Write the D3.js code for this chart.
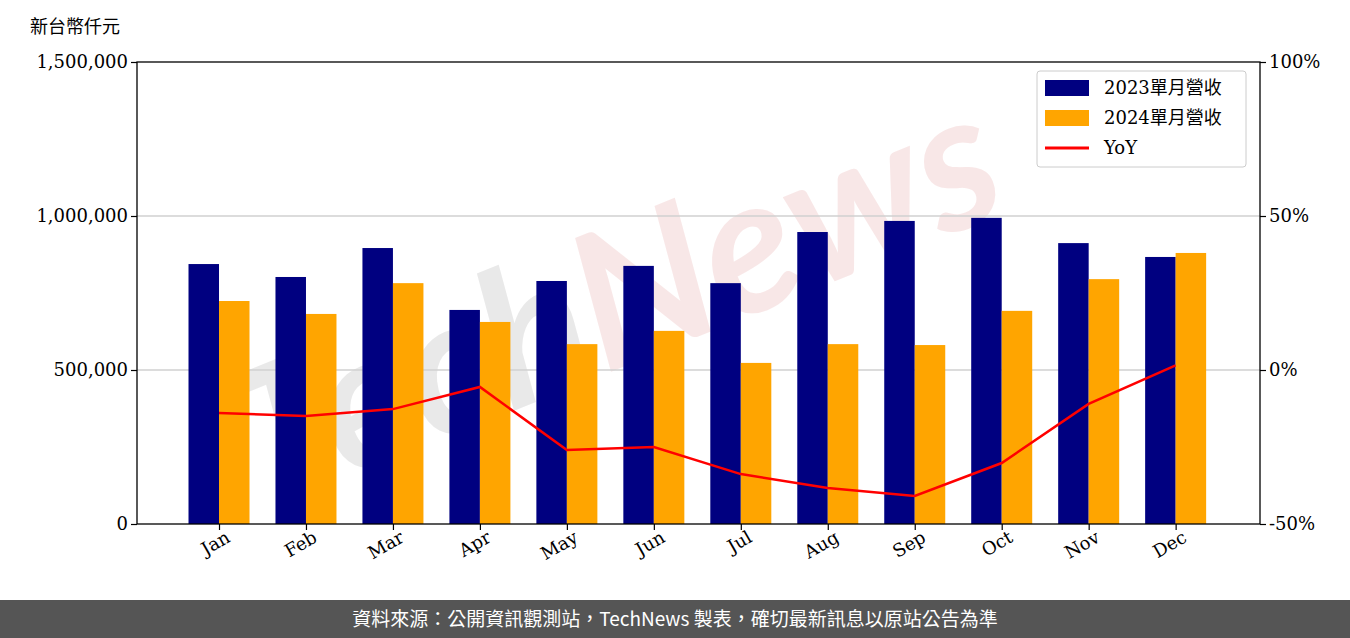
<!DOCTYPE html>
<html><head><meta charset="utf-8">
<script src="https://cdn.jsdelivr.net/npm/d3@7"></script>
<style>body{margin:0;background:#fff}svg{display:block}</style>
</head><body>
<svg id="c" width="1350" height="638"></svg>
<script>
const months=["Jan","Feb","Mar","Apr","May","Jun","Jul","Aug","Sep","Oct","Nov","Dec"];
const rev2023=[844000,802000,896000,695000,789000,838000,782000,948000,984000,994000,912000,867000];
const rev2024=[724000,682000,782000,656000,584000,627000,523000,584000,581000,692000,795000,880000];
const yoy=[-14.0,-14.9,-12.7,-5.5,-26.0,-25.0,-33.8,-38.3,-40.9,-30.2,-11.0,1.5];
const leftTicks=[0,500000,1000000,1500000];
const rightTicks=[-50,0,50,100];
const seriesNames=["2023單月營收","2024單月營收","YoY"];

const svg=d3.select("#c");
const L=137,R=1260,T=62,B=524;
const x=d3.scaleLinear().domain([-0.943,11.97]).range([L,R]);
const y=d3.scaleLinear().domain([0,1500000]).range([B,T]);
const y2=d3.scaleLinear().domain([-50,100]).range([B,T]);
const bw=30.5;
const serif="'DejaVu Serif',serif";

// watermark
const wm=svg.append("text").attr("x",640).attr("y",360).attr("text-anchor","middle")
 .attr("transform","rotate(-22,640,360)").attr("font-family","Lato,sans-serif").attr("font-style","italic")
 .attr("font-weight","bold").attr("font-size",190).attr("opacity",0.55);
wm.append("tspan").attr("fill","#d8d8d8").text("Tech");
wm.append("tspan").attr("fill","#f4d4d4").text("News");

// grid
svg.append("g").selectAll("line").data([500000,1000000]).join("line")
 .attr("x1",L).attr("x2",R).attr("y1",d=>y(d)).attr("y2",d=>y(d)).attr("stroke","#d0d0d0").attr("stroke-width",1.3);

svg.append("g").selectAll("rect").data(rev2023).join("rect")
 .attr("x",(d,i)=>x(i)-bw).attr("width",bw).attr("y",d=>y(d)).attr("height",d=>B-y(d)).attr("fill","#000080");
svg.append("g").selectAll("rect").data(rev2024).join("rect")
 .attr("x",(d,i)=>x(i)).attr("width",bw).attr("y",d=>y(d)).attr("height",d=>B-y(d)).attr("fill","#FFA500");

svg.append("path").datum(yoy).attr("fill","none").attr("stroke","#ff0000").attr("stroke-width",2.5)
 .attr("d",d3.line().x((d,i)=>x(i)).y(d=>y2(d)));

// frame
svg.append("rect").attr("x",L).attr("y",T).attr("width",R-L).attr("height",B-T).attr("fill","none").attr("stroke","#000").attr("stroke-width",1.3);

const ax=svg.append("g").attr("transform",`translate(${L},0)`).call(d3.axisLeft(y).tickValues(leftTicks).tickFormat(d3.format(",")).tickSizeOuter(0));
const ax2=svg.append("g").attr("transform",`translate(${R},0)`).call(d3.axisRight(y2).tickValues(rightTicks).tickFormat(d=>d+"%").tickSizeOuter(0));
const axb=svg.append("g").attr("transform",`translate(0,${B})`).call(d3.axisBottom(x).tickValues(d3.range(12)).tickFormat(i=>months[i]).tickSizeOuter(0));
[ax,ax2,axb].forEach(g=>{g.select(".domain").remove();g.selectAll("text").attr("font-family",serif).attr("font-size",18).attr("fill","#000");g.selectAll("line").attr("stroke","#000").attr("stroke-width",1.2);});
ax.selectAll("line").attr("x2",-6);ax.selectAll("text").attr("x",-9);
axb.selectAll("text").attr("text-anchor","end").attr("transform","rotate(-30)").attr("dy","0.7em").attr("dx","0.1em").attr("y",8);

svg.append("text").attr("x",30).attr("y",33).attr("font-family","'Noto Sans CJK TC',sans-serif").attr("font-size",18).text("新台幣仟元");

// legend
const lg=svg.append("g");
lg.append("rect").attr("x",1037).attr("y",71).attr("width",209).attr("height",96).attr("rx",3).attr("fill","#fff").attr("fill-opacity",0.85).attr("stroke","#ccc");
const cols=["#000080","#FFA500","#ff0000"];
seriesNames.forEach((n,i)=>{
 const yy=88+i*30;
 if(i<2) lg.append("rect").attr("x",1045).attr("y",yy-8).attr("width",44).attr("height",16).attr("fill",cols[i]);
 else lg.append("line").attr("x1",1045).attr("x2",1089).attr("y1",yy).attr("y2",yy).attr("stroke",cols[i]).attr("stroke-width",3);
 lg.append("text").attr("x",1104).attr("y",yy+6).attr("font-family","'DejaVu Serif','Noto Sans CJK TC',serif").attr("font-size",18).text(n);
});

// footer
svg.append("rect").attr("x",0).attr("y",600).attr("width",1350).attr("height",38).attr("fill","#555");
svg.append("text").attr("x",675).attr("y",626).attr("text-anchor","middle").attr("fill","#fff").attr("font-family","'Noto Sans CJK TC',sans-serif").attr("font-size",19)
 .text("資料來源：公開資訊觀測站，TechNews 製表，確切最新訊息以原站公告為準");
</script></body></html>
